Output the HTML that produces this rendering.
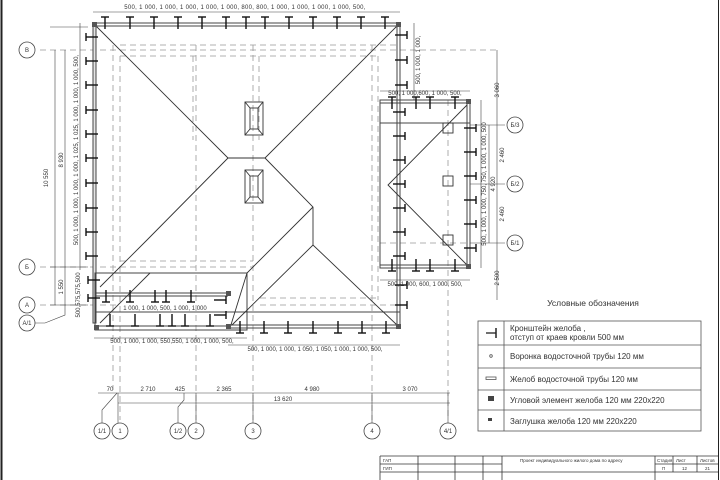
<!DOCTYPE html>
<html><head><meta charset="utf-8"><style>
html,body{margin:0;padding:0;background:#fff;width:720px;height:480px;overflow:hidden}
svg{display:block}
text{font-family:"Liberation Sans","DejaVu Sans",sans-serif;fill:#333}
</style></head><body>
<svg width="720" height="480" viewBox="0 0 720 480" xmlns="http://www.w3.org/2000/svg" xmlns:xlink="http://www.w3.org/1999/xlink">
<defs>
<g id="t" stroke="#111" stroke-width="1.4" fill="none"><line x1="-4" y1="0" x2="4" y2="0"/><line x1="0" y1="0" x2="0" y2="12"/></g>
</defs>
<g stroke="#222" fill="none" stroke-width="1">
<line x1="1.5" y1="0" x2="1.5" y2="480" stroke-width="2"/>
<line x1="718.5" y1="0" x2="718.5" y2="480"/>
</g>
<g stroke="#999" fill="none" stroke-width="0.8" stroke-dasharray="6,4">
<line x1="40" y1="50" x2="400" y2="50"/>
<line x1="120" y1="45" x2="400" y2="45"/>
<line x1="120" y1="56" x2="380" y2="56"/>
<line x1="400" y1="50" x2="500" y2="50"/>
<line x1="113" y1="45" x2="113" y2="390"/>
<line x1="120" y1="56" x2="120" y2="420"/>
<line x1="196" y1="45" x2="196" y2="420"/>
<line x1="193" y1="56" x2="193" y2="140"/>
<line x1="253" y1="45" x2="253" y2="420"/>
<line x1="259" y1="56" x2="259" y2="140"/>
<line x1="372" y1="45" x2="372" y2="420"/>
<line x1="378" y1="56" x2="378" y2="300"/>
<line x1="40" y1="267" x2="120" y2="267"/>
<line x1="120" y1="267" x2="253" y2="267"/>
<line x1="120" y1="261" x2="253" y2="261"/>
<line x1="260" y1="298" x2="380" y2="298"/>
<line x1="260" y1="305" x2="400" y2="305"/>
<line x1="40" y1="305" x2="120" y2="305"/>
<line x1="448" y1="100" x2="448" y2="420"/>
<line x1="380" y1="243" x2="470" y2="243"/>
</g>
<g stroke="#444" fill="none" stroke-width="1">
<rect x="93" y="23" width="307" height="3"/>
<rect x="93" y="23" width="3" height="300" fill="#e4e4e4"/>
<rect x="397" y="23" width="3" height="305"/>
<rect x="228" y="325" width="172" height="3"/>
<rect x="95" y="273" width="152" height="57"/>
<line x1="95" y1="293" x2="228" y2="293"/>
<line x1="95" y1="296" x2="228" y2="296"/>
<line x1="95" y1="312" x2="228" y2="312"/>
<line x1="228" y1="312" x2="400" y2="312"/>
<line x1="95" y1="326" x2="228" y2="326"/>
<rect x="380" y="100" width="90" height="168"/>
<line x1="380" y1="103" x2="470" y2="103"/>
<line x1="380" y1="265" x2="470" y2="265"/>
<line x1="467" y1="100" x2="467" y2="268"/>
<line x1="380" y1="123" x2="470" y2="123"/>
</g>
<g stroke="#333" fill="none" stroke-width="0.9">
<polyline points="93,23 228,158 265,158 400,23"/>
<polyline points="228,158 147,240 100,287"/>
<polyline points="265,158 313,207 313,245"/>
<polyline points="313,207 247,273 230,328"/>
<polyline points="150,273 100,323"/>
<polyline points="232,325 313,245 397,325"/>
<polyline points="467,105 388,185 467,265"/>
<rect x="245" y="102" width="18" height="33"/><polyline points="245,102 250,108 250,129 245,135"/><polyline points="263,102 258,108 258,129 263,135"/><line x1="250" y1="108" x2="258" y2="108"/><line x1="250" y1="129" x2="258" y2="129"/>
<rect x="245" y="170" width="18" height="33"/><polyline points="245,170 250,176 250,197 245,203"/><polyline points="263,170 258,176 258,197 263,203"/><line x1="250" y1="176" x2="258" y2="176"/><line x1="250" y1="197" x2="258" y2="197"/>
<rect x="443" y="123" width="10" height="10"/><rect x="443" y="176" width="10" height="10"/><rect x="443" y="235" width="10" height="10"/>
</g>
<g fill="#555"><rect x="92" y="22" width="5" height="5"/><rect x="396" y="22" width="5" height="5"/><rect x="396" y="324" width="5" height="5"/><rect x="226" y="324" width="5" height="5"/><rect x="94" y="325" width="5" height="5"/><rect x="466" y="99" width="5" height="5"/><rect x="466" y="264" width="5" height="5"/><rect x="226" y="291" width="5" height="5"/></g>
<!-- brackets: top -->
<use xlink:href="#t" href="#t" x="105" y="17"/><use href="#t" xlink:href="#t" x="130" y="17"/><use href="#t" xlink:href="#t" x="154" y="17"/><use href="#t" xlink:href="#t" x="178" y="17"/><use href="#t" xlink:href="#t" x="202" y="17"/><use href="#t" xlink:href="#t" x="226" y="17"/><use href="#t" xlink:href="#t" x="246" y="17"/><use href="#t" xlink:href="#t" x="265" y="17"/><use href="#t" xlink:href="#t" x="289" y="17"/><use href="#t" xlink:href="#t" x="313" y="17"/><use href="#t" xlink:href="#t" x="337" y="17"/><use href="#t" xlink:href="#t" x="361" y="17"/><use href="#t" xlink:href="#t" x="385" y="17"/>
<!-- left -->
<use href="#t" xlink:href="#t" transform="translate(86,37) rotate(-90)"/><use href="#t" xlink:href="#t" transform="translate(86,61) rotate(-90)"/><use href="#t" xlink:href="#t" transform="translate(86,85) rotate(-90)"/><use href="#t" xlink:href="#t" transform="translate(86,110) rotate(-90)"/><use href="#t" xlink:href="#t" transform="translate(86,134) rotate(-90)"/><use href="#t" xlink:href="#t" transform="translate(86,158) rotate(-90)"/><use href="#t" xlink:href="#t" transform="translate(86,183) rotate(-90)"/><use href="#t" xlink:href="#t" transform="translate(86,208) rotate(-90)"/><use href="#t" xlink:href="#t" transform="translate(86,232) rotate(-90)"/><use href="#t" xlink:href="#t" transform="translate(86,256) rotate(-90)"/><use href="#t" xlink:href="#t" transform="translate(88,280) rotate(-90)"/><use href="#t" xlink:href="#t" transform="translate(88,298) rotate(-90)"/>
<!-- main right, upper -->
<use href="#t" xlink:href="#t" transform="translate(407,35) rotate(90)"/><use href="#t" xlink:href="#t" transform="translate(407,60) rotate(90)"/><use href="#t" xlink:href="#t" transform="translate(407,85) rotate(90)"/>
<!-- main right inside annex and below -->
<use href="#t" xlink:href="#t" transform="translate(405,112) rotate(90)"/><use href="#t" xlink:href="#t" transform="translate(405,136) rotate(90)"/><use href="#t" xlink:href="#t" transform="translate(405,160) rotate(90)"/><use href="#t" xlink:href="#t" transform="translate(405,184) rotate(90)"/><use href="#t" xlink:href="#t" transform="translate(405,208) rotate(90)"/><use href="#t" xlink:href="#t" transform="translate(405,232) rotate(90)"/><use href="#t" xlink:href="#t" transform="translate(405,256) rotate(90)"/><use href="#t" xlink:href="#t" transform="translate(407,285) rotate(90)"/><use href="#t" xlink:href="#t" transform="translate(407,305) rotate(90)"/>
<!-- annex right side -->
<use href="#t" xlink:href="#t" transform="translate(476,128) rotate(90)"/><use href="#t" xlink:href="#t" transform="translate(476,152) rotate(90)"/><use href="#t" xlink:href="#t" transform="translate(476,176) rotate(90)"/><use href="#t" xlink:href="#t" transform="translate(476,200) rotate(90)"/><use href="#t" xlink:href="#t" transform="translate(476,224) rotate(90)"/><use href="#t" xlink:href="#t" transform="translate(476,248) rotate(90)"/>
<!-- annex top/bottom -->
<use href="#t" xlink:href="#t" x="392" y="97"/><use href="#t" xlink:href="#t" x="416" y="97"/><use href="#t" xlink:href="#t" x="430" y="97"/><use href="#t" xlink:href="#t" x="455" y="97"/>
<use href="#t" xlink:href="#t" transform="translate(392,271) rotate(180)"/><use href="#t" xlink:href="#t" transform="translate(416,271) rotate(180)"/><use href="#t" xlink:href="#t" transform="translate(430,271) rotate(180)"/><use href="#t" xlink:href="#t" transform="translate(455,271) rotate(180)"/>
<!-- porch -->
<use href="#t" xlink:href="#t" transform="translate(106,302) rotate(180)"/><use href="#t" xlink:href="#t" transform="translate(130,302) rotate(180)"/><use href="#t" xlink:href="#t" transform="translate(155,302) rotate(180)"/><use href="#t" xlink:href="#t" transform="translate(166,302) rotate(180)"/><use href="#t" xlink:href="#t" transform="translate(191,302) rotate(180)"/>
<use href="#t" xlink:href="#t" transform="translate(110,326) rotate(180)"/><use href="#t" xlink:href="#t" transform="translate(135,326) rotate(180)"/><use href="#t" xlink:href="#t" transform="translate(160,326) rotate(180)"/><use href="#t" xlink:href="#t" transform="translate(172,326) rotate(180)"/><use href="#t" xlink:href="#t" transform="translate(185,326) rotate(180)"/><use href="#t" xlink:href="#t" transform="translate(210,326) rotate(180)"/>
<use href="#t" xlink:href="#t" transform="translate(226,300) rotate(90)"/><use href="#t" xlink:href="#t" transform="translate(226,315) rotate(90)"/>
<!-- main bottom -->
<use href="#t" xlink:href="#t" transform="translate(240,333) rotate(180)"/><use href="#t" xlink:href="#t" transform="translate(264,333) rotate(180)"/><use href="#t" xlink:href="#t" transform="translate(288,333) rotate(180)"/><use href="#t" xlink:href="#t" transform="translate(313,333) rotate(180)"/><use href="#t" xlink:href="#t" transform="translate(338,333) rotate(180)"/><use href="#t" xlink:href="#t" transform="translate(362,333) rotate(180)"/><use href="#t" xlink:href="#t" transform="translate(386,333) rotate(180)"/>
<g stroke="#444" stroke-width="0.6" fill="none">
<line x1="93" y1="12" x2="400" y2="12"/>
<line x1="80" y1="23" x2="80" y2="270"/>
<line x1="414" y1="23" x2="414" y2="100"/>
<line x1="380" y1="91" x2="470" y2="91"/>
<line x1="380" y1="280" x2="470" y2="280"/>
<line x1="481" y1="100" x2="481" y2="268"/>
<line x1="94" y1="338" x2="247" y2="338"/>
<line x1="228" y1="345" x2="400" y2="345"/>
<line x1="98" y1="393" x2="450" y2="393"/>
<line x1="118" y1="403" x2="450" y2="403"/>
<line x1="50" y1="305" x2="88" y2="305"/>
<line x1="50" y1="267" x2="88" y2="267"/>
<line x1="50" y1="27" x2="88" y2="27"/>
<line x1="55" y1="50" x2="55" y2="305"/>
<line x1="65" y1="50" x2="65" y2="305"/>
<line x1="470" y1="125" x2="505" y2="125"/>
<line x1="470" y1="184" x2="505" y2="184"/>
<line x1="470" y1="243" x2="505" y2="243"/>
<line x1="489" y1="125" x2="489" y2="243"/>
<line x1="497" y1="50" x2="497" y2="300"/>
<line x1="118" y1="393" x2="118" y2="424"/><line x1="196" y1="393" x2="196" y2="424"/><line x1="253" y1="393" x2="253" y2="424"/><line x1="372" y1="393" x2="372" y2="424"/><line x1="448" y1="393" x2="448" y2="424"/>
<polyline points="117,393 102,410 102,424"/><polyline points="184,393 184,400 178,407 178,424"/>
<polyline points="65,305 65,315 45,323 34,323"/>
</g>
<g stroke="#444" fill="#fff" stroke-width="0.8">
<circle cx="27" cy="50" r="8"/><circle cx="27" cy="267" r="8"/><circle cx="27" cy="305" r="8"/><circle cx="27" cy="323" r="8"/>
<circle cx="102" cy="431" r="8"/><circle cx="120" cy="431" r="8"/><circle cx="178" cy="431" r="8"/><circle cx="196" cy="431" r="8"/><circle cx="253" cy="431" r="8"/><circle cx="372" cy="431" r="8"/><circle cx="448" cy="431" r="8"/>
<circle cx="515" cy="125" r="8"/><circle cx="515" cy="184" r="8"/><circle cx="515" cy="243" r="8"/>
</g>
<g font-size="6" text-anchor="middle">
<text x="27" y="52">В</text><text x="27" y="269">Б</text><text x="27" y="307">А</text><text x="27" y="325">А/1</text>
<text x="102" y="433">1/1</text><text x="120" y="433">1</text><text x="178" y="433">1/2</text><text x="196" y="433">2</text><text x="253" y="433">3</text><text x="372" y="433">4</text><text x="448" y="433">4/1</text>
<text x="515" y="127">Б/3</text><text x="515" y="186">Б/2</text><text x="515" y="245">Б/1</text>
<text x="110" y="391">70</text><text x="148" y="391">2 710</text><text x="180" y="391">425</text><text x="224" y="391">2 365</text><text x="312" y="391">4 980</text><text x="410" y="391">3 070</text><text x="283" y="401">13 620</text>
<text x="245" y="9" letter-spacing="0.3">500, 1 000, 1 000, 1 000, 1 000, 1 000, 800, 800, 1 000, 1 000, 1 000, 1 000, 500,</text>
<text x="172" y="343">500, 1 000, 1 000, 550,550, 1 000, 1 000, 500,</text>
<text x="315" y="351">500, 1 000, 1 000, 1 050, 1 050, 1 000, 1 000, 500,</text>
<text x="425" y="95">500, 1 000,600,  1 000, 500,</text>
<text x="425" y="286">500, 1 000, 600, 1 000, 500,</text>
<text x="165" y="310">1 000, 1 000, 500, 1 000, 1 000</text>
</g>
<g font-size="6" text-anchor="middle">
<text transform="translate(78,150) rotate(-90)">500, 1 000, 1 000, 1 000, 1 000, 1 025, 1 025, 1 000, 1 000, 1 000, 500,</text>
<text transform="translate(48,178) rotate(-90)">10 550</text>
<text transform="translate(63,160) rotate(-90)">8 930</text>
<text transform="translate(63,287) rotate(-90)">1 550</text>
<text transform="translate(80,295) rotate(-90)">500,575,575,500</text>
<text transform="translate(420,60) rotate(-90)">500, 1 000, 1 000,</text>
<text transform="translate(486,184) rotate(-90)">500, 1 000, 1 000, 750, 750, 1 000, 1 000, 500</text>
<text transform="translate(495,184) rotate(-90)">4 920</text>
<text transform="translate(504,155) rotate(-90)">2 460</text>
<text transform="translate(504,214) rotate(-90)">2 460</text>
<text transform="translate(499,90) rotate(-90)">3 060</text>
<text transform="translate(499,278) rotate(-90)">2 500</text>
</g>
<text x="593" y="306" font-size="8.5" text-anchor="middle">Условные обозначения</text>
<g stroke="#555" fill="none" stroke-width="0.8">
<rect x="478" y="321" width="223" height="110"/>
<line x1="504" y1="321" x2="504" y2="431"/>
<line x1="478" y1="345" x2="701" y2="345"/><line x1="478" y1="368" x2="701" y2="368"/><line x1="478" y1="390" x2="701" y2="390"/><line x1="478" y1="410" x2="701" y2="410"/>
<line x1="486" y1="333" x2="496" y2="333" stroke="#222" stroke-width="1.3"/><line x1="496" y1="328" x2="496" y2="338" stroke="#222" stroke-width="1.5"/>
<circle cx="491" cy="356" r="1.3"/>
<rect x="486" y="377" width="10" height="2.5"/>
</g>
<rect x="488" y="396" width="6" height="5" fill="#444"/><rect x="488" y="418" width="4" height="3" fill="#444"/>
<g font-size="8">
<text x="510" y="331">Кронштейн желоба ,</text><text x="510" y="340">отступ от краев кровли 500 мм</text>
<text x="510" y="359">Воронка водосточной трубы 120 мм</text>
<text x="510" y="382">Желоб водосточной трубы 120 мм</text>
<text x="510" y="403">Угловой элемент желоба 120 мм 220x220</text>
<text x="510" y="424">Заглушка желоба 120 мм 220x220</text>
</g>
<g stroke="#333" fill="none" stroke-width="0.8">
<line x1="380" y1="456" x2="718" y2="456"/><line x1="380" y1="464" x2="502" y2="464"/><line x1="655" y1="464" x2="718" y2="464"/><line x1="380" y1="472" x2="718" y2="472"/>
<line x1="380" y1="456" x2="380" y2="480"/><line x1="418" y1="456" x2="418" y2="480"/><line x1="455" y1="456" x2="455" y2="480"/><line x1="483" y1="456" x2="483" y2="480"/><line x1="502" y1="456" x2="502" y2="480"/><line x1="655" y1="456" x2="655" y2="480"/><line x1="673" y1="456" x2="673" y2="472"/><line x1="697" y1="456" x2="697" y2="472"/>
</g>
<g font-size="4.5"><text x="383" y="462">ГАП</text><text x="383" y="470">ГИП</text><text x="520" y="462">Проект индивидуального жилого дома по адресу</text>
<text x="657" y="462">Стадия</text><text x="676" y="462">Лист</text><text x="700" y="462">Листов</text><text x="662" y="470">П</text><text x="682" y="470">12</text><text x="705" y="470">21</text></g>
</svg>
</body></html>
